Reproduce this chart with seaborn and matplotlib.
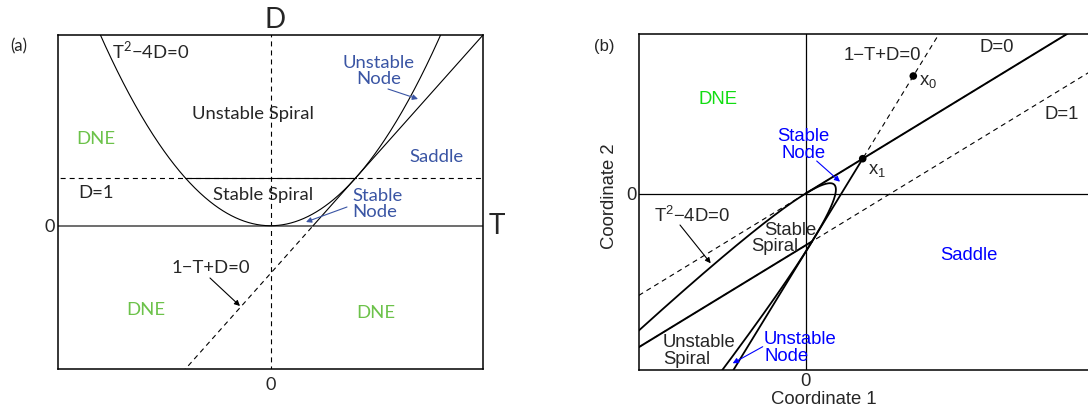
import numpy as np
import matplotlib
matplotlib.use("Agg")
import matplotlib.pyplot as plt
import seaborn as sns

W, H = 1088, 412

# ---------------- data ----------------
# panel (a): trace-determinant plane
T_LIM = [-5.0, 5.0]
D_LIM = [-3.0, 4.0]
PARABOLA_T = np.linspace(-6.0, 6.0, 601)          # curve T^2 - 4D = 0
STABLE_SPIRAL_T = [-2.0, 2.0]                      # solid part of D = 1
NODE_LINE_T_DASHED = [-3.0, 1.0]                   # 1 - T + D = 0, dashed part
NODE_LINE_T_SOLID = [1.0, 6.0]                     # 1 - T + D = 0, solid part
# panel (b): the same curves in coordinate space (affine image)
COORD_PER_T = [0.57, 0.348]
COORD_PER_D = [-1.076, -1.175]
COORD_XLIM = [-1.667, 2.843]
COORD_YLIM = [-1.765, 1.595]
POINT_NAMES = ["x0", "x1"]
POINT_T = [0.0, 1.0]
POINT_D = [-1.0, 0.0]

# ---------------- style ----------------
sns.set_theme(style="white")
plt.rcParams["lines.scale_dashes"] = False
plt.rcParams["mathtext.fontset"] = "dejavusans"
FA = ["Lato", "DejaVu Sans"]
FB = ["Liberation Sans", "DejaVu Sans"]
GREEN_A, BLUE_A = "#6cc24a", "#3a55a4"
GREEN_B, BLUE_B = "#11dd11", "#0000ff"
DASH = (0, (3.6, 2.9))
FS = 13.3

fig = plt.figure(figsize=(W / 100, H / 100), dpi=100)
fig.patch.set_facecolor("white")

def fig_xy(px, py):
    return px / W, 1 - py / H

def ftext(px, py, s, **kw):
    x, y = fig_xy(px, py)
    fig.text(x, y, s, **kw)

def farrow(p0, p1, color):
    fig.add_artist(matplotlib.patches.FancyArrowPatch(
        fig_xy(*p0), fig_xy(*p1), transform=fig.transFigure,
        arrowstyle="-|>", mutation_scale=8, lw=0.8, color=color,
        shrinkA=0, shrinkB=0))

def draw(ax, x, y, lw, ls="-", color="black"):
    sns.lineplot(x=np.asarray(x), y=np.asarray(y), ax=ax, sort=False,
                 estimator=None, color=color, lw=lw, linestyle=ls)

# ================= panel (a) =================
axA = fig.add_axes([57.7 / W, 1 - 369 / H, 425.6 / W, 334.3 / H])
axA.set_xlim(T_LIM)
axA.set_ylim(D_LIM)
t_full = np.array(T_LIM) * 1.2
draw(axA, [0, 0], np.array(D_LIM) * 1.2, 0.8, DASH)                   # T = 0
draw(axA, t_full, [0, 0], 1.4, "-", "#6e6e6e")                        # D = 0
draw(axA, t_full, [1, 1], 0.8, DASH)                                  # D = 1
draw(axA, STABLE_SPIRAL_T, [1, 1], 0.8)
draw(axA, PARABOLA_T, PARABOLA_T ** 2 / 4, 0.8)                       # T^2-4D=0
tn = np.array(NODE_LINE_T_DASHED)
draw(axA, tn, tn - 1, 0.8, DASH)
tn = np.array(NODE_LINE_T_SOLID)
draw(axA, tn, tn - 1, 0.8)
for s in axA.spines.values():
    s.set_visible(True)
    s.set_color("black")
    s.set_linewidth(1.1)
axA.set_xticks([0])
axA.set_yticks([0])
axA.set_xticklabels(["0"], fontfamily=FA, fontsize=13)
axA.set_yticklabels(["0"], fontfamily=FA, fontsize=13)
axA.tick_params(length=0)
axA.tick_params(axis="x", pad=6)
axA.tick_params(axis="y", pad=2)
axA.set_xlabel("")
axA.set_ylabel("")

ftext(19, 46, "(a)", fontsize=12, family=FA, ha="center", va="center")
ftext(275, 20, "D", fontsize=20, family=FA, ha="center", va="center")
ftext(497, 226, "T", fontsize=20, family=FA, ha="center", va="center")
ftext(151, 50, r"T$^{\mathregular{2}}$−4D=0", fontsize=FS, family=FA, ha="center", va="center")
ftext(253, 114, "Unstable Spiral", fontsize=FS, family=FA, ha="center", va="center")
ftext(96, 139, "DNE", fontsize=FS, family=FA, color=GREEN_A, ha="center", va="center")
ftext(379, 71, "Unstable\nNode", fontsize=FS, family=FA, color=BLUE_A, ha="center",
      va="center", linespacing=1.0)
ftext(436, 157, "Saddle", fontsize=FS, family=FA, color=BLUE_A, ha="center", va="center")
ftext(96, 193, "D=1", fontsize=FS, family=FA, ha="center", va="center")
ftext(263, 195, "Stable Spiral", fontsize=FS, family=FA, ha="center", va="center")
ftext(352, 204, "Stable\nNode", fontsize=FS, family=FA, color=BLUE_A, ha="left",
      va="center", linespacing=0.95)
ftext(211, 268, "1−T+D=0", fontsize=FS, family=FA, ha="center", va="center")
ftext(146, 310, "DNE", fontsize=FS, family=FA, color=GREEN_A, ha="center", va="center")
ftext(376, 313, "DNE", fontsize=FS, family=FA, color=GREEN_A, ha="center", va="center")
farrow((388, 89), (418, 99), BLUE_A)
farrow((347, 207), (306, 222), BLUE_A)
farrow((210, 278), (240, 306), "black")

# ================= panel (b) =================
axB = fig.add_axes([639 / W, 1 - 370 / H, 451 / W, 336 / H])
axB.set_xlim(COORD_XLIM)
axB.set_ylim(COORD_YLIM)
PT = np.array(COORD_PER_T)
PD = np.array(COORD_PER_D)

def to_coord(t, d):
    t = np.asarray(t, float)
    d = np.asarray(d, float)
    return t * PT[0] + d * PD[0], t * PT[1] + d * PD[1]

def drawTD(t, d, lw, ls="-"):
    x, y = to_coord(t, d)
    draw(axB, x, y, lw, ls)

axB.axhline(0, color="black", lw=0.9)
axB.axvline(0, color="black", lw=0.9)
big = np.array([-10.0, 10.0])
drawTD(big, [0, 0], 0.8, DASH)                       # D = 0
drawTD([0, 10], [0, 0], 1.4)
drawTD(big, [1, 1], 0.8, DASH)                       # D = 1
drawTD(STABLE_SPIRAL_T, [1, 1], 1.4)
drawTD(PARABOLA_T, PARABOLA_T ** 2 / 4, 1.3)         # T^2 - 4D = 0
tn = np.array([-10.0, 1.0])
drawTD(tn, tn - 1, 0.8, DASH)                        # 1 - T + D = 0
tn = np.array([1.0, 10.0])
drawTD(tn, tn - 1, 1.3)
px, py = to_coord(POINT_T, POINT_D)
sns.scatterplot(x=px, y=py, ax=axB, color="black", s=30, edgecolor="none", zorder=5)

for s in axB.spines.values():
    s.set_visible(True)
    s.set_color("black")
    s.set_linewidth(1.1)
axB.set_xticks([0])
axB.set_yticks([0])
axB.set_xticklabels(["0"], fontfamily=FB, fontsize=FS)
axB.set_yticklabels(["0"], fontfamily=FB, fontsize=FS)
axB.tick_params(length=0)
axB.tick_params(axis="x", pad=2.5)
axB.tick_params(axis="y", pad=1.5)
axB.set_xlabel("Coordinate 1", fontfamily=FB, fontsize=FS)
axB.set_ylabel("Coordinate 2", fontfamily=FB, fontsize=FS)
axB.xaxis.label.set_va("center")
axB.yaxis.label.set_va("center")
axB.xaxis.set_label_coords((823.7 - 639) / 451, (370 - 399.3) / 336)
axB.yaxis.set_label_coords((609 - 639) / 451, (370 - 196) / 336)

ftext(604, 46, "(b)", fontsize=12, family=FB, ha="center", va="center")
ftext(882, 56, "1−T+D=0", fontsize=FS, family=FB, ha="center", va="center")
ftext(919, 81, r"x$_\mathregular{0}$", fontsize=FS, family=FB, ha="left", va="center")
ftext(868, 171, r"x$_\mathregular{1}$", fontsize=FS, family=FB, ha="left", va="center")
ftext(997, 48, "D=0", fontsize=FS, family=FB, ha="center", va="center")
ftext(1062, 114.5, "D=1", fontsize=FS, family=FB, ha="center", va="center")
ftext(718, 99, "DNE", fontsize=FS, family=FB, color=GREEN_B, ha="center", va="center")
ftext(803.7, 145, "Stable\nNode", fontsize=FS, family=FB, color=BLUE_B, ha="center",
      va="center", linespacing=0.95)
ftext(692, 216, r"T$^{\mathregular{2}}$−4D=0", fontsize=FS, family=FB, ha="center", va="center")
ftext(790.3, 230.3, "Stable", fontsize=FS, family=FB, ha="center", va="center")
ftext(774.5, 247, "Spiral", fontsize=FS, family=FB, ha="center", va="center")
ftext(969, 256, "Saddle", fontsize=FS, family=FB, color=BLUE_B, ha="center", va="center")
ftext(663, 351, "Unstable\nSpiral", fontsize=FS, family=FB, ha="left", va="center",
      linespacing=0.95)
ftext(764, 348, "Unstable\nNode", fontsize=FS, family=FB, color=BLUE_B, ha="left",
      va="center", linespacing=0.95)
farrow((816.7, 161), (840, 181.7), BLUE_B)
farrow((680, 225), (710.7, 263.3), "black")
farrow((762.7, 346.7), (732.7, 363.3), BLUE_B)

fig.savefig("out.png", dpi=100)
